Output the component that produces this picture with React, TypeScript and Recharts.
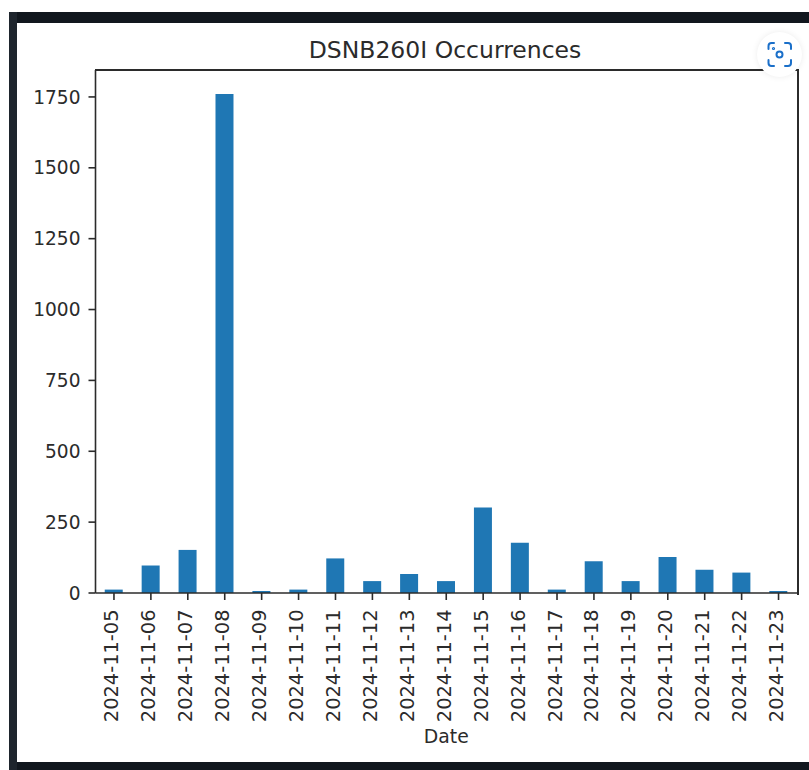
// App.tsx - DSNB260I occurrences per day, screenshot of a matplotlib bar chart
import React from "react";
import { BarChart, Bar, XAxis, YAxis } from "recharts";

const dates = [
  "2024-11-05", "2024-11-06", "2024-11-07", "2024-11-08", "2024-11-09",
  "2024-11-10", "2024-11-11", "2024-11-12", "2024-11-13", "2024-11-14",
  "2024-11-15", "2024-11-16", "2024-11-17", "2024-11-18", "2024-11-19",
  "2024-11-20", "2024-11-21", "2024-11-22", "2024-11-23",
];
const occurrences = [12, 97, 152, 1760, 7, 12, 122, 42, 67, 42, 302, 177, 12, 112, 42, 127, 82, 72, 7];
const yTicks = [0, 250, 500, 750, 1000, 1250, 1500, 1750];

const chartData = dates.map((date, i) => ({ date, count: occurrences[i] }));

const FONT = "'DejaVu Sans', sans-serif";
const INK = "#2b2b2b";
const FRAME = "#11171e";

// matplotlib style rotated date label, reads bottom to top
const DateTick = ({ x, y, payload }: any) => (
  <text
    transform={`translate(${x + 4.5},${y + 7.5}) rotate(-90)`}
    textAnchor="end"
    fontFamily={FONT}
    fontSize={19.4}
    fill={INK}
  >
    {payload.value}
  </text>
);

const band = (style: React.CSSProperties) => (
  <div style={{ position: "absolute", background: FRAME, ...style }} />
);

export default function App() {
  return (
    <div style={{ position: "absolute", left: 0, top: 0, width: 809, height: 770, background: "#fff", overflow: "hidden" }}>
      {band({ left: 9, top: 12, width: 800, height: 11 })}
      {band({ left: 9, top: 12, width: 8, height: 758, background: "#1e252d" })}
      {band({ left: 17, top: 762, width: 792, height: 8 })}

      <div style={{ position: "absolute", left: 0, top: 36, width: 890, textAlign: "center", fontFamily: FONT, fontSize: 23.5, color: INK, whiteSpace: "nowrap" }}>
        DSNB260I Occurrences
      </div>

      <div style={{ position: "absolute", left: 0, top: 0 }}>
        <BarChart
          width={809}
          height={770}
          data={chartData}
          margin={{ top: 70, right: 12, bottom: 0, left: 0 }}
          barCategoryGap="25%"
        >
          <XAxis
            dataKey="date"
            height={177}
            interval={0}
            tick={<DateTick />}
            tickSize={7}
            tickLine={{ stroke: INK, strokeWidth: 1.6 }}
            axisLine={{ stroke: INK, strokeWidth: 1.6 }}
            label={{ value: "Date", position: "insideBottom", offset: 27, fontFamily: FONT, fontSize: 18.8, fill: INK }}
          />
          <YAxis
            width={95.5}
            domain={[0, 1845]}
            ticks={yTicks}
            interval={0}
            tickSize={7}
            tickMargin={8}
            tickLine={{ stroke: INK, strokeWidth: 1.6 }}
            axisLine={{ stroke: INK, strokeWidth: 1.6 }}
            tick={{ fontFamily: FONT, fontSize: 18.6, fill: INK }}
          />
          <Bar dataKey="count" fill="#1f77b4" isAnimationActive={false} />
        </BarChart>
      </div>

      {/* top and right spines */}
      <div style={{ position: "absolute", left: 95, top: 69, width: 702, height: 523.5, borderTop: "2px solid " + INK, borderRight: "2px solid " + INK }} />

      {/* lens button sitting on top of the screenshot */}
      <div style={{ position: "absolute", left: 757, top: 32, width: 45, height: 45, borderRadius: "50%", background: "#fff", boxShadow: "0 0 6px rgba(0,0,0,0.08)" }}>
        <svg width={45} height={45} viewBox="0 0 45 45" fill="none" stroke="#1a6fc9" strokeWidth={2} strokeLinecap="round">
          <path d="M11.5 17 V14 Q11.5 11 14.5 11 H17" />
          <path d="M28 11 H31 Q34 11 34 14 V17" />
          <path d="M34 28 V31 Q34 34 31 34 H28" />
          <path d="M17 34 H14.5 Q11.5 34 11.5 31 V28" />
          <circle cx={22.5} cy={22.5} r={3} />
          <circle cx={16.5} cy={16.5} r={0.6} />
        </svg>
      </div>
    </div>
  );
}
